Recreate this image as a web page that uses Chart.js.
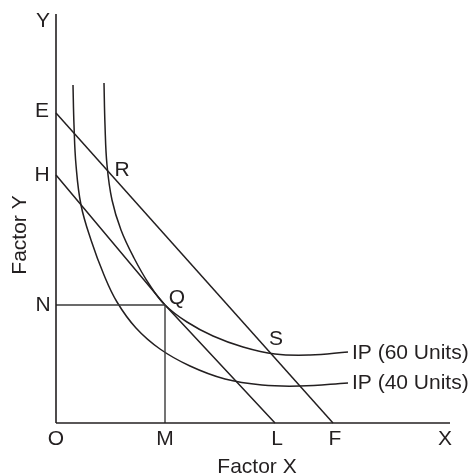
<!DOCTYPE html>
<html>
<head>
<meta charset="utf-8">
<script src="https://cdn.jsdelivr.net/npm/chart.js@4"></script>
<style>
  html, body { margin: 0; padding: 0; background: #ffffff; }
  #c { display: block; }
</style>
</head>
<body>
<canvas id="c" width="469" height="476"></canvas>
<script>
// ---- data ----
const axisMaxX = 394;
const axisMaxY = 409;

// Isoquant IP (40 Units)
const ip40X = [17, 18, 20, 25, 35, 48, 61, 80, 104, 134, 169, 206, 244, 292];
const ip40Y = [338, 298, 258, 218, 183, 148, 121, 95, 74, 57, 44, 38, 37, 40];

// Isoquant IP (60 Units)
const ip60X = [48, 49, 51, 56, 65, 78, 93, 109, 131, 157, 187, 219, 254, 292];
const ip60Y = [340, 298, 258, 223, 193, 165, 139, 118, 101, 87, 76, 69, 68, 71];

// Isocost lines: E-F and H-(Q)-L
const lineEFX = [0, 277];
const lineEFY = [310, 0];
const lineHLX = [0, 109, 219];
const lineHLY = [248, 118, 0];

// Point Q and its projections N (on Y) and M (on X)
const pointQ = [109, 118];

// Text labels
const labelText = ["Y", "E", "H", "N", "O", "M", "L", "F", "X", "R", "Q", "S"];
const labelX    = [-13, -14, -14, -13, 0, 109, 221, 279, 389, 66, 121, 220];
const labelY    = [402, 312, 248, 118, -16, -16, -16, -16, -16, 253, 125, 84];

const curveLabels = ["IP (60 Units)", "IP (40 Units)"];
const curveLabelX = [296, 296];
const curveLabelY = [70, 40];

const xTitle = "Factor X";
const yTitle = "Factor Y";

// ---- build ----
const ink = "#231f20";
const pts = (xs, ys) => xs.map((x, i) => ({ x: x, y: ys[i] }));

function lineDs(data, opts) {
  return Object.assign({
    data: data,
    showLine: true,
    borderColor: ink,
    borderWidth: 1.5,
    pointRadius: 0,
    pointHoverRadius: 0,
    fill: false,
    tension: 0,
    clip: false
  }, opts || {});
}

const datasets = [
  lineDs(pts([0, 0], [0, axisMaxY]), { borderWidth: 1.6 }),
  lineDs(pts([0, axisMaxX], [0, 0]), { borderWidth: 1.6 }),
  lineDs(pts([0, pointQ[0]], [pointQ[1], pointQ[1]]), { borderColor: "#3a3a3a", borderWidth: 1.4 }),
  lineDs(pts([pointQ[0], pointQ[0]], [pointQ[1], 0]), { borderColor: "#3a3a3a", borderWidth: 1.4 }),
  lineDs(pts(lineEFX, lineEFY)),
  lineDs(pts(lineHLX, lineHLY)),
  lineDs(pts(ip40X, ip40Y), { tension: 0.4 }),
  lineDs(pts(ip60X, ip60Y), { tension: 0.4 })
];

const labelPlugin = {
  id: "labels",
  afterDatasetsDraw(chart) {
    const ctx = chart.ctx;
    const sx = chart.scales.x, sy = chart.scales.y;
    ctx.save();
    ctx.fillStyle = ink;
    ctx.font = '21px "Liberation Sans", Arial, sans-serif';
    ctx.textAlign = "center";
    ctx.textBaseline = "middle";
    labelText.forEach((t, i) => {
      ctx.fillText(t, sx.getPixelForValue(labelX[i]), sy.getPixelForValue(labelY[i]));
    });
    ctx.textAlign = "left";
    curveLabels.forEach((t, i) => {
      ctx.fillText(t, sx.getPixelForValue(curveLabelX[i]), sy.getPixelForValue(curveLabelY[i]));
    });
    ctx.textAlign = "center";
    ctx.fillText(xTitle, sx.getPixelForValue(201), sy.getPixelForValue(-44));
    ctx.translate(sx.getPixelForValue(-36), sy.getPixelForValue(188));
    ctx.rotate(-Math.PI / 2);
    ctx.fillText(yTitle, 0, 0);
    ctx.restore();
  }
};

new Chart(document.getElementById("c"), {
  type: "scatter",
  data: { datasets: datasets },
  options: {
    responsive: false,
    devicePixelRatio: 1,
    animation: false,
    events: [],
    layout: { padding: { left: 56, right: 19, top: 14, bottom: 53 } },
    plugins: { legend: { display: false }, tooltip: { enabled: false } },
    scales: {
      x: { type: "linear", min: 0, max: axisMaxX, display: false },
      y: { type: "linear", min: 0, max: axisMaxY, display: false }
    }
  },
  plugins: [labelPlugin]
});
</script>
</body>
</html>
